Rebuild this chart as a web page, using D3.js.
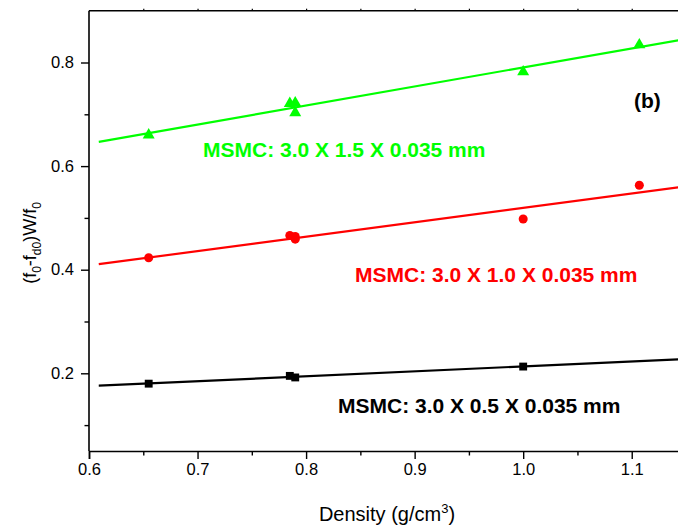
<!DOCTYPE html>
<html>
<head>
<meta charset="utf-8">
<script src="https://cdn.jsdelivr.net/npm/d3@7/dist/d3.min.js"></script>
<style>
  html, body { margin: 0; padding: 0; background: #fff; }
  svg { display: block; font-family: Arial, "Liberation Sans", sans-serif; }
</style>
</head>
<body>
<svg id="chart" width="678" height="532"></svg>
<script>
// Density of each sample (g/cm^3) and the normalised frequency shift per sensor width
const densW15 = [0.655, 0.785, 0.79, 0.79, 1.0, 1.107];
const shiftW15 = [0.660, 0.721, 0.722, 0.703, 0.782, 0.834];

const densW10 = [0.655, 0.785, 0.79, 0.79, 1.0, 1.107];
const shiftW10 = [0.423, 0.466, 0.464, 0.459, 0.498, 0.563];

const densW05 = [0.655, 0.785, 0.79, 1.0];
const shiftW05 = [0.180, 0.195, 0.192, 0.213];

const seriesNames = [
  "MSMC: 3.0 X 1.5 X 0.035 mm",
  "MSMC: 3.0 X 1.0 X 0.035 mm",
  "MSMC: 3.0 X 0.5 X 0.035 mm"
];

const xTickValues = [0.6, 0.7, 0.8, 0.9, 1.0, 1.1];
const xMinorValues = [0.65, 0.75, 0.85, 0.95, 1.05];
const yTickValues = [0.2, 0.4, 0.6, 0.8];
const yMinorValues = [0.1, 0.3, 0.5, 0.7];
const fitRange = [0.609, 1.15];

const svg = d3.select("#chart");

const x = d3.scaleLinear().domain([0.6, 1.15]).range([89, 686]);
const y = d3.scaleLinear().domain([0.05, 0.9]).range([451, 10.7]);

// least-squares straight line through a series
function linearFit(xs, ys) {
  const mx = d3.mean(xs), my = d3.mean(ys);
  let sxy = 0, sxx = 0;
  xs.forEach((v, i) => { sxy += (v - mx) * (ys[i] - my); sxx += (v - mx) * (v - mx); });
  const b = sxy / sxx;
  return { a: my - b * mx, b: b };
}

const series = [
  { xs: densW15, ys: shiftW15, color: "#00ff00", symbol: d3.symbolTriangle, size: 62, name: seriesNames[0], lx: 203, ly: 157 },
  { xs: densW10, ys: shiftW10, color: "#ff0000", symbol: d3.symbolCircle, size: 64, name: seriesNames[1], lx: 355, ly: 282 },
  { xs: densW05, ys: shiftW05, color: "#000000", symbol: d3.symbolSquare, size: 62, name: seriesNames[2], lx: 338, ly: 413 }
];

// frame: left and top edges
svg.append("line").attr("x1", x(0.6)).attr("x2", x(0.6)).attr("y1", y(0.9)).attr("y2", y(0.05))
  .attr("stroke", "#000").attr("stroke-width", 1.6);
svg.append("line").attr("x1", x(0.6)).attr("x2", x(1.15)).attr("y1", y(0.9)).attr("y2", y(0.9))
  .attr("stroke", "#000").attr("stroke-width", 1.6);

// bottom axis
const xAxis = svg.append("g").attr("transform", `translate(0,${y(0.05)})`)
  .call(d3.axisBottom(x).tickValues(xTickValues).tickSize(8).tickPadding(4).tickFormat(d3.format(".1f")));
xAxis.select(".domain").attr("stroke-width", 1.6);
xAxis.selectAll(".tick line").attr("stroke-width", 1.4);
xAxis.selectAll("text").attr("font-size", 16.5).attr("fill", "#000");
svg.append("g").attr("transform", `translate(0,${y(0.05)})`)
  .call(d3.axisBottom(x).tickValues(xMinorValues).tickSize(4.5).tickFormat(""))
  .call(g => g.select(".domain").remove())
  .selectAll(".tick line").attr("stroke-width", 1.4);

// top edge minor marks
svg.append("g").attr("transform", `translate(0,${y(0.9)})`)
  .call(d3.axisTop(x).tickValues(xMinorValues.concat(xTickValues.slice(1))).tickSize(2).tickFormat(""))
  .call(g => g.select(".domain").remove())
  .selectAll(".tick line").attr("stroke-width", 1.2);

// left axis
const yAxis = svg.append("g").attr("transform", `translate(${x(0.6)},0)`)
  .call(d3.axisLeft(y).tickValues(yTickValues).tickSize(8).tickPadding(7).tickFormat(d3.format(".1f")));
yAxis.select(".domain").remove();
yAxis.selectAll(".tick line").attr("stroke-width", 1.4);
yAxis.selectAll("text").attr("font-size", 16.5).attr("fill", "#000");
svg.append("g").attr("transform", `translate(${x(0.6)},0)`)
  .call(d3.axisLeft(y).tickValues(yMinorValues).tickSize(4.5).tickFormat(""))
  .call(g => g.select(".domain").remove())
  .selectAll(".tick line").attr("stroke-width", 1.4);

// fitted lines, markers and labels
series.forEach(s => {
  const fit = linearFit(s.xs, s.ys);
  svg.append("line")
    .attr("x1", x(fitRange[0])).attr("y1", y(fit.a + fit.b * fitRange[0]))
    .attr("x2", x(fitRange[1])).attr("y2", y(fit.a + fit.b * fitRange[1]))
    .attr("stroke", s.color).attr("stroke-width", 2.2);

  svg.append("g").selectAll("path").data(s.xs.map((v, i) => [v, s.ys[i]])).join("path")
    .attr("d", d3.symbol().type(s.symbol).size(s.size))
    .attr("transform", d => `translate(${x(d[0])},${y(d[1])})`)
    .attr("fill", s.color);

  svg.append("text").attr("x", s.lx).attr("y", s.ly)
    .attr("font-size", 21).attr("font-weight", "bold").attr("fill", s.color)
    .text(s.name);
});

svg.append("text").attr("x", 634).attr("y", 108).attr("font-size", 21).attr("font-weight", "bold")
  .attr("fill", "#000").text("(b)");

// axis titles
const xt = svg.append("text").attr("x", 387).attr("y", 521).attr("text-anchor", "middle")
  .attr("font-size", 20).attr("fill", "#000");
xt.append("tspan").text("Density (g/cm");
xt.append("tspan").attr("font-size", 13).attr("dy", -8).text("3");
xt.append("tspan").attr("dy", 8).text(")");

const yt = svg.append("text").attr("transform", "translate(36,243) rotate(-90)")
  .attr("text-anchor", "middle").attr("font-size", 18).attr("fill", "#000");
yt.append("tspan").text("(f");
yt.append("tspan").attr("font-size", 12).attr("dy", 5).text("0");
yt.append("tspan").attr("dy", -5).text("-f");
yt.append("tspan").attr("font-size", 12).attr("dy", 5).text("d0");
yt.append("tspan").attr("dy", -5).text(")W/f");
yt.append("tspan").attr("font-size", 12).attr("dy", 5).text("0");
</script>
</body>
</html>
